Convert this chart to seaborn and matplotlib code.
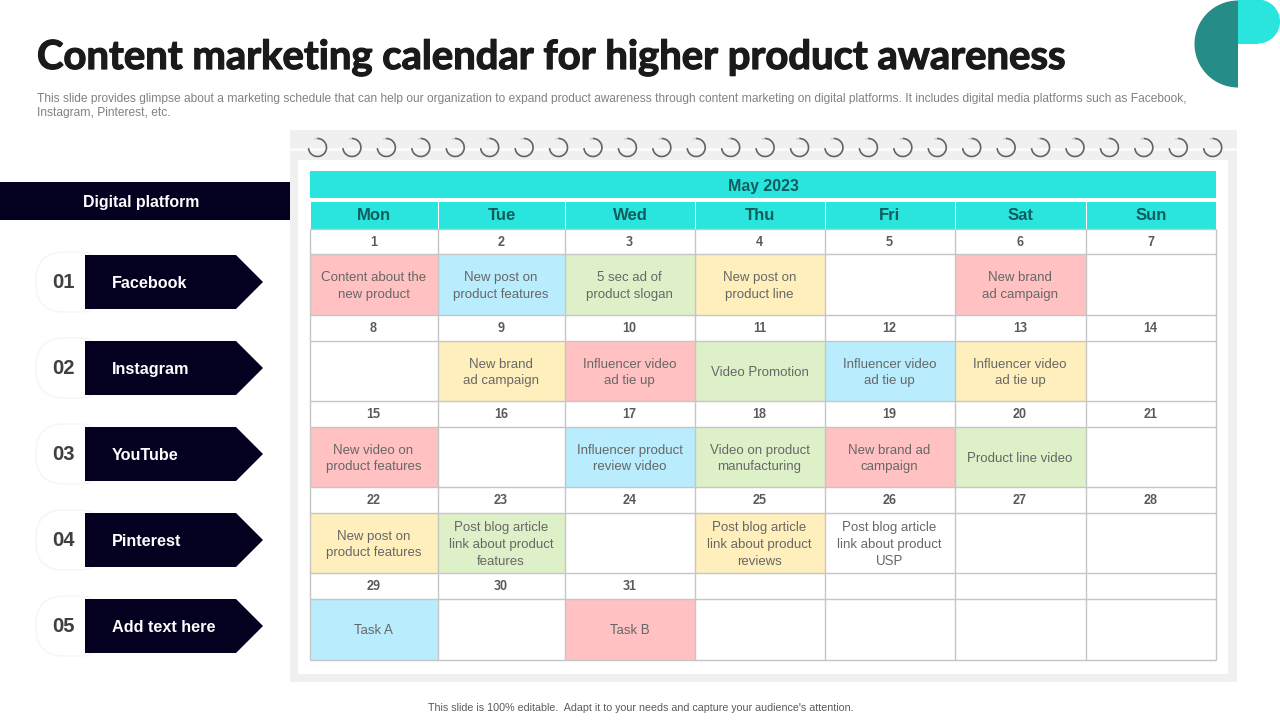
import numpy as np
import pandas as pd
import matplotlib
matplotlib.use("Agg")
import matplotlib.pyplot as plt
import matplotlib.patheffects as pe
from matplotlib.colors import ListedColormap
from matplotlib.patches import Rectangle, Polygon, Arc, FancyBboxPatch, Wedge
import seaborn as sns

sns.set_theme(style="white")
plt.rcParams['font.family'] = ['Liberation Sans', 'DejaVu Sans']
plt.rcParams['text.hinting'] = 'native'
plt.rcParams['text.hinting_factor'] = 8

TITLE = "Content marketing calendar for higher product awareness"
SUB1 = "This slide provides glimpse about a marketing schedule that can help our organization to expand product awareness through content marketing on digital platforms. It includes digital media platforms such as Facebook,"
SUB2 = "Instagram, Pinterest, etc."
FOOT = "This slide is 100% editable.  Adapt it to your needs and capture your audience's attention."
MONTH = "May 2023"
weekdays = ["Mon", "Tue", "Wed", "Thu", "Fri", "Sat", "Sun"]
platform_head = "Digital platform"
platform_nums = ["01", "02", "03", "04", "05"]
platforms = ["Facebook", "Instagram", "YouTube", "Pinterest", "Add text here"]

week1_days = ["1", "2", "3", "4", "5", "6", "7"]
week2_days = ["8", "9", "10", "11", "12", "13", "14"]
week3_days = ["15", "16", "17", "18", "19", "20", "21"]
week4_days = ["22", "23", "24", "25", "26", "27", "28"]
week5_days = ["29", "30", "31", "", "", "", ""]
week1_text = ["Content about the\nnew product", "New post on\nproduct features", "5 sec ad of\nproduct slogan", "New post on\nproduct line", "", "New brand\nad campaign", ""]
week2_text = ["", "New brand\nad campaign", "Influencer video\nad tie up", "Video Promotion", "Influencer video\nad tie up", "Influencer video\nad tie up", ""]
week3_text = ["New video on\nproduct features", "", "Influencer product\nreview video", "Video on product\nmanufacturing", "New brand ad\ncampaign", "Product line video", ""]
week4_text = ["New post on\nproduct features", "Post blog article\nlink about product\nfeatures", "", "Post blog article\nlink about product\nreviews", "Post blog article\nlink about product\nUSP", "", ""]
week5_text = ["Task A", "", "Task B", "", "", "", ""]
# colour classes: 0 white, 1 pink, 2 blue, 3 green, 4 yellow
week1_code = [1, 2, 3, 4, 0, 1, 0]
week2_code = [0, 4, 1, 3, 2, 4, 0]
week3_code = [1, 0, 2, 3, 1, 3, 0]
week4_code = [4, 3, 0, 4, 0, 0, 0]
week5_code = [2, 0, 1, 0, 0, 0, 0]

cell_colors = ["#FFFFFF", "#FFC1C1", "#B9ECFD", "#DDF0C8", "#FFEFBC"]
NAVY, TEAL, DTEAL, PANEL, GRID = "#04001F", "#2AE4DE", "#258C87", "#F0F0F0", "#C6C6C6"

# layout (pixels)
col_edges = np.array([310, 438, 565, 695, 825, 955, 1086, 1216])
row_edges = np.array([229, 254, 315, 341, 401, 427, 487, 513, 573, 599, 660])

fig = plt.figure(figsize=(12.8, 7.2), dpi=100, facecolor="white")
bg = fig.add_axes([0, 0, 1, 1])
bg.set_xlim(0, 1280); bg.set_ylim(720, 0); bg.axis("off")

def rect(x0, y0, x1, y1, c, z=1, **kw):
    bg.add_patch(Rectangle((x0, y0), x1 - x0, y1 - y0, fc=c, ec="none", zorder=z, **kw))

# corner logo
bg.add_patch(Wedge((1238, 44), 43.5, 90, 270, fc=DTEAL, ec="none", zorder=2))
bg.add_patch(Wedge((1258, 21.5), 22, -90, 90, fc=TEAL, ec="none", zorder=2))
rect(1238, 0, 1258, 43.5, TEAL, 2)

# titles
bg.text(37, 57.5, TITLE, fontsize=28.8, fontweight="bold", family="Lato", color="#1A1A1A", va="center", ha="left",
        path_effects=[pe.withStroke(linewidth=0.9, foreground="#1A1A1A")])
bg.text(37, 98, SUB1, fontsize=8.68, color="#7F7F7F", va="center", ha="left")
bg.text(37, 112, SUB2, fontsize=8.68, color="#7F7F7F", va="center", ha="left")
bg.text(640.5, 708, FOOT, fontsize=7.72, color="#595959", va="center", ha="center")

# calendar panel
rect(290, 130, 1237, 682, PANEL)
rect(290, 148, 1237, 151, "#FAFAFA", 1.5)
rect(298, 160, 1228, 674, "white", 2)
for cx in 317.5 + 34.43 * np.arange(27):
    bg.add_patch(Arc((cx, 147.5), 18, 18, theta1=-92, theta2=176, lw=1.2, ec="#636363", zorder=3))
    bg.add_patch(Arc((cx, 147.5), 18, 18, theta1=-110, theta2=-92, lw=1.2, ec="#CFCFCF", zorder=3))

# calendar headers
rect(310, 171, 1216, 198, TEAL, 3)
bg.text(763, 191, MONTH, fontsize=11.5, fontweight="bold", color="#0F5E5E", ha="center", va="baseline", zorder=5)
for d, x0, x1 in zip(weekdays, col_edges[:-1], col_edges[1:]):
    rect(x0 + 0.5, 202, x1 - 0.5, 229, TEAL, 3)
    bg.text((x0 + x1) / 2, 220.5, d, fontsize=12, fontweight="bold", color="#0F5E5E", ha="center", va="baseline", zorder=5)

# calendar grid: a seaborn heatmap at pixel resolution so the columns can have unequal widths
weeks_code = [week1_code, week2_code, week3_code, week4_code, week5_code]
weeks_days = [week1_days, week2_days, week3_days, week4_days, week5_days]
weeks_text = [week1_text, week2_text, week3_text, week4_text, week5_text]
rows = []
for code in weeks_code:
    rows.append([0] * 7)
    rows.append(code)
codes = pd.DataFrame(rows, columns=weekdays)
pixels = np.repeat(np.repeat(codes.values, np.diff(row_edges), axis=0), np.diff(col_edges), axis=1)
ax = fig.add_axes([310 / 1280, 1 - 660 / 720, (1216 - 310) / 1280, (660 - 229) / 720])
sns.heatmap(pixels, ax=ax, cmap=ListedColormap(cell_colors), vmin=-0.5, vmax=4.5, cbar=False,
            xticklabels=False, yticklabels=False, rasterized=True)
ax.patch.set_visible(False)
xe = col_edges - col_edges[0]
ye = row_edges - row_edges[0]
ax.vlines(xe, 0, ye[-1], color=GRID, lw=1, clip_on=False)
ax.hlines(ye, 0, xe[-1], color=GRID, lw=1, clip_on=False)
xc = (xe[:-1] + xe[1:]) / 2 - 0.5
for w in range(5):
    for i in range(7):
        ax.text(xc[i], (ye[2 * w] + ye[2 * w + 1]) / 2 + 4.5, weeks_days[w][i], fontsize=9, fontweight="bold",
                color="#595959", ha="center", va="baseline")
        ax.text(xc[i], (ye[2 * w + 1] + ye[2 * w + 2]) / 2 + 1.5, weeks_text[w][i], fontsize=9.5, color="#666666",
                ha="center", va="center", linespacing=1.36)

# left column
rect(0, 182, 290, 220, NAVY, 3)
bg.text(141, 207, platform_head, fontsize=11.4, fontweight="bold", color="white", ha="center", va="baseline", zorder=5)
for k, (n, p) in enumerate(zip(platform_nums, platforms)):
    y0 = 255 + 86 * k
    y1 = y0 + 54
    bg.add_patch(FancyBboxPatch((36, y0 - 3), 70, 60, boxstyle="round,pad=0,rounding_size=28",
                                fc="white", ec="#F6F6F6", lw=1.2, zorder=2))
    bg.add_patch(Polygon([(85, y0), (236, y0), (263, (y0 + y1) / 2), (236, y1), (85, y1)], fc=NAVY, ec="none", zorder=3))
    bg.text(63, y0 + 32.5, n, fontsize=14.5, fontweight="bold", color="#404040", ha="center", va="baseline", zorder=5)
    bg.text(112, y0 + 33, p, fontsize=11.7, fontweight="bold", color="white", ha="left", va="baseline", zorder=5)

fig.savefig("out.png", dpi=100)
